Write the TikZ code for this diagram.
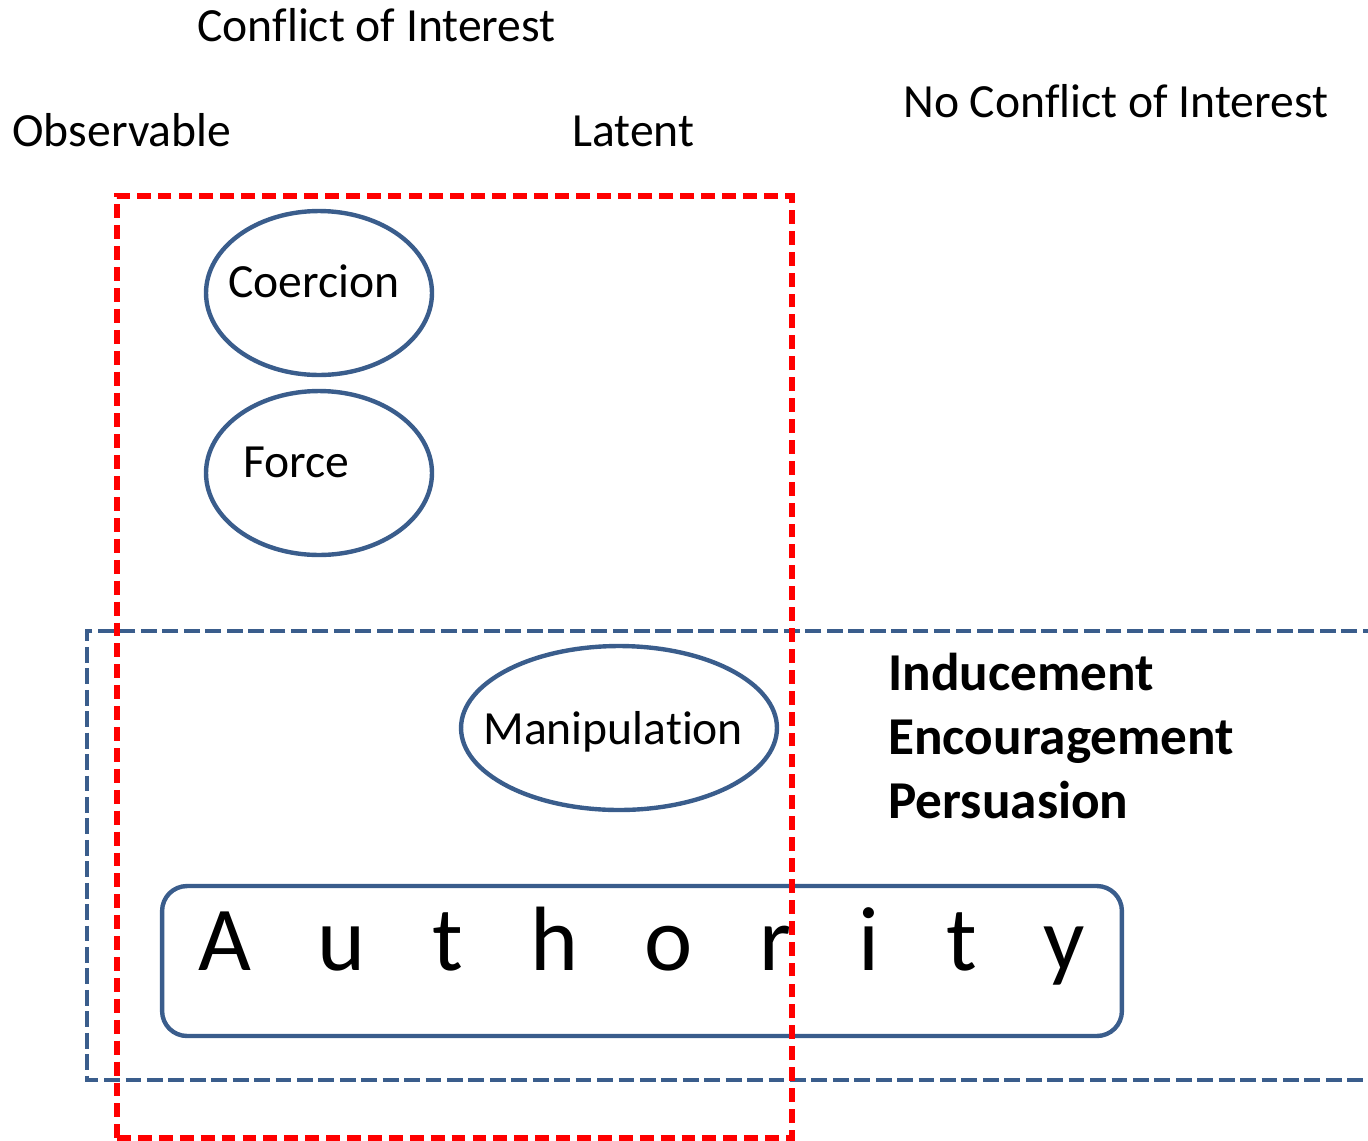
\documentclass[tikz,border=0pt]{standalone}
\usepackage{fontspec}
\setmainfont{Carlito}[Ligatures=NoCommon]
\usetikzlibrary{shapes.geometric}
\definecolor{ppblue}{HTML}{3A5D8C}
\definecolor{ppred}{HTML}{FF0000}
\tikzset{
  lbl/.style={inner sep=0pt, anchor=base west, font=\fontsize{27.1}{32}\selectfont},
  blbl/.style={inner sep=0pt, anchor=base west, font=\fontsize{30.3}{34}\selectfont\bfseries},
  oval/.style={ellipse, draw=ppblue, line width=2.5pt, inner sep=0pt},
  redbox/.style={draw=ppred, line width=3pt, dash pattern=on 7.9pt off 4pt},
  bluebox/.style={draw=ppblue, line width=2.3pt, dash pattern=on 9pt off 3.2pt},
  authbox/.style={draw=ppblue, line width=2.5pt, rounded corners=0.5cm, minimum width=19.2cm, minimum height=3cm, inner sep=0pt}
}
\begin{document}
\begin{tikzpicture}[x=0.02cm, y=-0.02cm]
\useasboundingbox (0,0) rectangle (1368,1140);
\begin{scope}
\clip (0,0) rectangle (1368,1140);
% blue open box
\coordinate (bTR) at (1400,631);
\coordinate (bTL) at (87,631);
\coordinate (bBL) at (87,1080);
\coordinate (bBR) at (1400,1080);
\draw[bluebox] (bTR) -- (bTL) -- (bBL) -- (bBR);
% authority box
\node[authbox] (auth) at (642,961) {};
\node[inner sep=0pt, anchor=base west, font=\fontsize{52}{60}\selectfont] (authtext) at (198,970)
 {A\hspace{38pt}u\hspace{38pt}t\hspace{38pt}h\hspace{38pt}o\hspace{38pt}r\hspace{38pt}i\hspace{38pt}t\hspace{38pt}y};
% ellipses
\node[oval, minimum width=4.52cm, minimum height=3.28cm] (coercion) at (319,293) {};
\node[oval, minimum width=4.52cm, minimum height=3.28cm] (force) at (319,473) {};
\node[oval, minimum width=6.32cm, minimum height=3.28cm] (manip) at (619,728) {};
\node[lbl] (coerciont) at (228,297) {Coercion};
\node[lbl] (forcet) at (243,477) {Force};
\node[lbl] (manipt) at (483,744) {Manipulation};
% red box
\node[redbox, inner sep=0pt, minimum width=13.5cm, minimum height=18.84cm] (redr) at (454.5,667) {};
\end{scope}
% labels
\node[lbl] (coi) at (197,41) {Conflict of Interest};
\node[lbl] (obs) at (12,146) {Observable};
\node[lbl] (lat) at (572,146) {Latent};
\node[lbl] (ncoi) at (903,117) {No Conflict of Interest};
\node[blbl] (ind) at (888,690) {Inducement};
\node[blbl] (enc) at (888,754) {Encouragement};
\node[blbl] (per) at (888,818) {Persuasion};
\end{tikzpicture}
\end{document}
